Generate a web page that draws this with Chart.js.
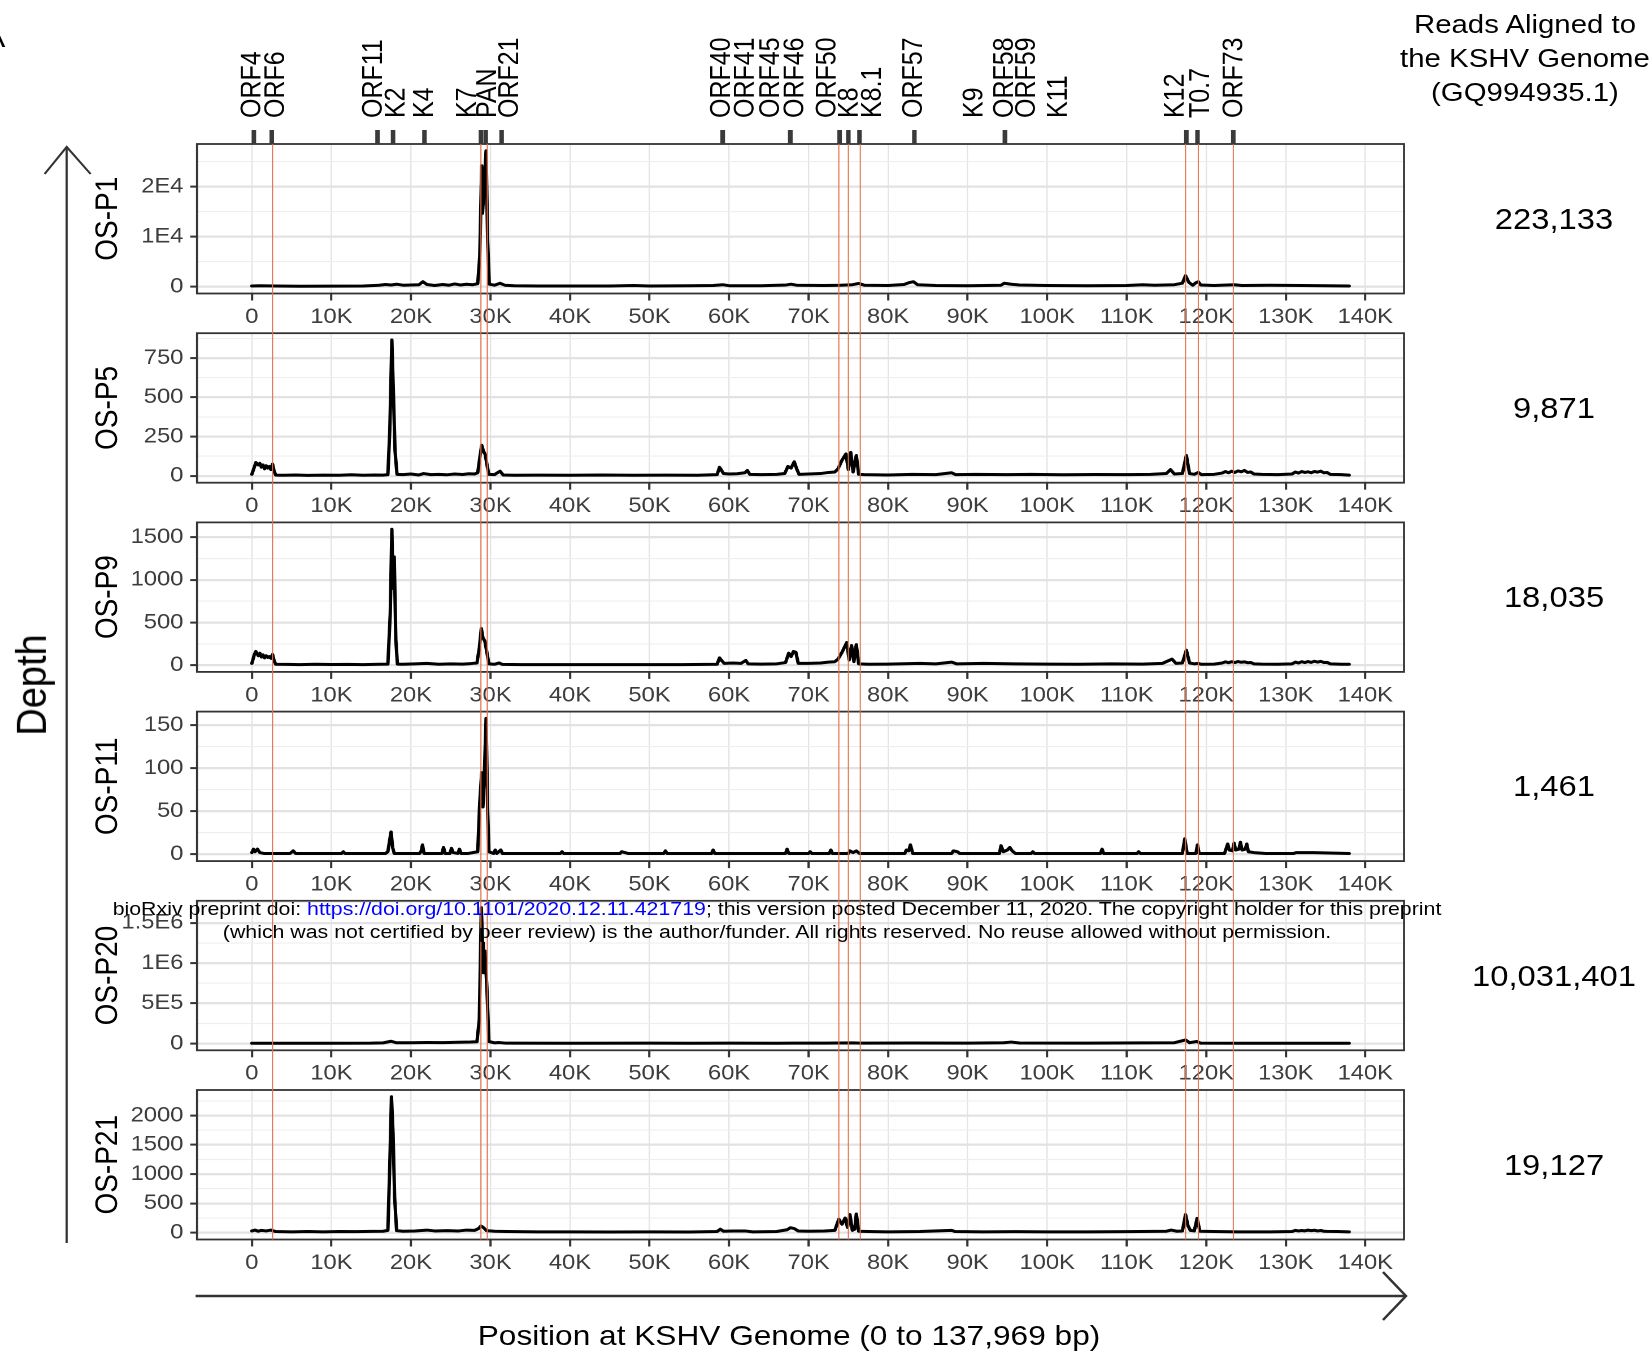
<!DOCTYPE html>
<html><head><meta charset="utf-8">
<script src="https://cdn.jsdelivr.net/npm/chart.js@4.4.1/dist/chart.umd.min.js"></script>
<style>
html,body{margin:0;padding:0;background:#fff;overflow:hidden;width:1652px;height:1358px;}
#stage{position:absolute;left:0;top:0;width:1462px;height:1358px;transform-origin:0 0;transform:scaleX(1.129959);}
#stage canvas{position:absolute;left:0;}
.t{position:absolute;font-family:"Liberation Sans",Arial,Helvetica,sans-serif;color:#000;white-space:nowrap;}
</style></head><body><div id="stage"></div>
<script>
// ---------------- DATA ----------------
const genomeLength = 137969;
const panelNames = ['OS-P1','OS-P5','OS-P9','OS-P11','OS-P20','OS-P21'];
const readCounts = ['223,133','9,871','18,035','1,461','10,031,401','19,127'];
const headerLines = ['Reads Aligned to','the KSHV Genome','(GQ994935.1)'];
const xTitle = 'Position at KSHV Genome (0 to 137,969 bp)';
const yTitle = 'Depth';
const xTickValues = [0,10000,20000,30000,40000,50000,60000,70000,80000,90000,100000,110000,120000,130000,140000];
const xTickLabels = ['0','10K','20K','30K','40K','50K','60K','70K','80K','90K','100K','110K','120K','130K','140K'];

const geneNames    = ['ORF4','ORF6','ORF11','K2','K4','K7','PAN','ORF21','ORF40','ORF41','ORF45','ORF46','ORF50','K8','K8.1','ORF57','K9','ORF58','ORF59','K11','K12','T0.7','ORF73'];
const geneTickPos  = [250,2500,15800,17750,21700,28800,29400,31400,59200,59200,67700,67700,73900,75000,76400,83300,94700,94700,94700,94700,117500,118900,123400];
const geneLabelPos = [-200,2800,15100,17900,21500,26900,29400,32200,58800,61800,65000,68100,72100,74900,77800,83000,90600,94400,97200,101200,115900,119100,123300];
const markerPos = [2600,28800,29600,73800,75000,76500,117400,119000,123400];

const p1Cov = [[0,150],[1000,200],[3000,150],[6000,100],[10000,120],[14000,150],[16000,300],[16800,450],[17500,350],[18200,500],[19000,300],[20000,350],[21000,400],[21500,1000],[22000,450],[23000,250],[24000,450],[24800,300],[25500,550],[26200,350],[27000,500],[27800,400],[28400,600],[28650,6000],[28900,24200],[29000,14700],[29450,27200],[29650,9000],[29850,500],[30500,300],[31200,700],[31800,300],[33000,200],[36000,150],[40000,150],[45000,150],[48000,250],[50000,150],[55000,200],[58000,250],[59200,400],[60000,200],[64000,200],[67200,350],[67800,500],[68500,300],[72000,250],[74000,300],[75500,400],[76300,650],[77000,300],[80000,250],[82000,450],[82600,800],[83200,1000],[83700,400],[86000,250],[90000,200],[94200,300],[94600,700],[95500,500],[96500,350],[100000,250],[105000,200],[110000,250],[112000,400],[113500,300],[116000,400],[117000,700],[117400,2200],[117800,900],[118300,300],[118700,800],[119000,1000],[119300,350],[121000,250],[123500,400],[124500,250],[128000,300],[132000,250],[135000,200],[137969,150]];
const p5Cov = [[0,10],[300,55],[500,85],[800,70],[1000,80],[1200,55],[1400,70],[1600,45],[1800,65],[2000,50],[2200,60],[2400,40],[2600,75],[2800,30],[3000,5],[4000,4],[5500,6],[7000,3],[9000,5],[11000,4],[12500,7],[14000,4],[15500,6],[16500,5],[17100,8],[17350,300],[17600,865],[17800,520],[18000,160],[18250,10],[19000,8],[20000,12],[21000,6],[21600,15],[22500,8],[23500,10],[24500,7],[25500,12],[26500,9],[27300,14],[28000,12],[28400,20],[28700,130],[28900,195],[29100,160],[29350,135],[29600,60],[29800,10],[30500,8],[31200,30],[31600,6],[33000,4],[36000,5],[40000,4],[44000,6],[48000,4],[52000,5],[56000,4],[58500,8],[58800,55],[59000,40],[59300,15],[60000,12],[61000,14],[62000,20],[62300,35],[62600,10],[64000,8],[66000,10],[67000,15],[67400,60],[67800,50],[68200,90],[68500,45],[68800,10],[70000,12],[71500,15],[72500,22],[73300,25],[73700,45],[74200,100],[74700,140],[75000,40],[75300,150],[75600,25],[76000,130],[76300,10],[77000,8],[80000,6],[83000,10],[86000,8],[88000,20],[88500,8],[91000,10],[95000,8],[98000,10],[102000,7],[106000,9],[110000,8],[113000,10],[115000,15],[115500,40],[116000,12],[117000,15],[117500,130],[117900,15],[118500,10],[119000,22],[119400,8],[121000,10],[122000,18],[122400,28],[122800,20],[123200,30],[123600,22],[124000,32],[124400,26],[124800,35],[125200,22],[125600,25],[126000,12],[127000,10],[129000,8],[130800,12],[131200,25],[131600,18],[132000,28],[132400,22],[132800,26],[133200,20],[133600,28],[134000,24],[134400,30],[134800,20],[135200,22],[135600,10],[137000,8],[137969,5]];
const p9Cov = [[0,20],[300,120],[500,160],[800,110],[1000,140],[1200,95],[1400,120],[1600,85],[1800,110],[2000,90],[2200,100],[2400,80],[2600,125],[2800,50],[3000,10],[4500,8],[6000,6],[8000,10],[10000,7],[12000,9],[14000,6],[16000,10],[17100,12],[17400,600],[17600,1595],[17750,900],[17900,1270],[18100,300],[18300,12],[19000,10],[20500,14],[22000,20],[23500,10],[25000,15],[26500,12],[27500,18],[28300,25],[28600,200],[28850,430],[29050,320],[29300,280],[29550,150],[29800,15],[30500,10],[31100,25],[31500,8],[34000,6],[38000,5],[42000,6],[46000,5],[50000,6],[54000,5],[58500,10],[58800,85],[59100,50],[59400,20],[60500,25],[61500,20],[62100,55],[62400,15],[64000,12],[66000,15],[67100,30],[67500,140],[67800,100],[68100,160],[68400,150],[68700,20],[70000,20],[71500,25],[72500,35],[73300,40],[73700,70],[74200,150],[74800,265],[75100,60],[75400,230],[75700,40],[76000,240],[76300,15],[77500,10],[80000,12],[84000,20],[86000,15],[88000,35],[88600,15],[92000,20],[96000,15],[100000,12],[104000,10],[108000,15],[112000,12],[114500,20],[115700,70],[116200,20],[117000,25],[117500,175],[117900,25],[118500,15],[119000,20],[119400,10],[121000,12],[122000,25],[122400,38],[122800,28],[123200,40],[123600,30],[124000,42],[124400,33],[124800,38],[125200,28],[125600,30],[126000,15],[127000,12],[129000,10],[130800,15],[131200,35],[131600,25],[132000,40],[132400,30],[132800,42],[133200,32],[133600,45],[134000,35],[134400,44],[134800,30],[135200,32],[135600,14],[137000,10],[137969,10]];
const p11Cov = [[0,2],[200,6],[400,3],[700,6],[1000,2],[1500,1],[4800,1],[5200,4],[5500,1],[11300,1],[11500,3],[11700,1],[16800,1],[17100,3],[17300,15],[17500,26],[17700,8],[17900,1],[21100,1],[21300,4],[21450,11],[21650,1],[23900,1],[24100,8],[24300,1],[24900,1],[25100,7],[25300,2],[25900,1],[26100,6],[26300,1],[27200,1],[28400,3],[28650,60],[28900,95],[29050,55],[29250,98],[29450,158],[29650,50],[29800,3],[30400,1],[30600,5],[30800,1],[31300,5],[31500,1],[38800,1],[39000,3],[39200,1],[46300,1],[46500,3],[46900,2],[47300,1],[51800,1],[52000,4],[52200,1],[57800,1],[58000,5],[58200,1],[67100,1],[67300,6],[67500,1],[70000,1],[70200,3],[70400,1],[72600,1],[72800,5],[73000,1],[75000,1],[75200,4],[75600,2],[76000,4],[76400,1],[82100,1],[82300,5],[82600,4],[82800,11],[83100,1],[88000,1],[88200,4],[88700,3],[89000,1],[94000,1],[94200,10],[94500,3],[95000,5],[95300,8],[95600,4],[96000,1],[98000,1],[98200,3],[98400,1],[106700,1],[106900,6],[107100,1],[111300,1],[111500,3],[111700,1],[117000,1],[117300,18],[117600,1],[118700,1],[118900,11],[119100,1],[122300,1],[122700,12],[122900,5],[123300,4],[123500,13],[123700,5],[124100,6],[124300,14],[124500,5],[124900,6],[125100,12],[125300,3],[126000,2],[127500,1],[131000,1],[131300,2],[133500,2],[137969,1]];
const p20Cov = [[0,3000],[5000,2500],[10000,3000],[15000,4000],[16500,8000],[17500,28000],[18200,9000],[20000,10000],[22000,12000],[24000,11000],[26000,15000],[27500,18000],[28300,22000],[28600,300000],[28850,1690000],[29000,1250000],[29100,880000],[29300,1150000],[29550,700000],[29800,25000],[30500,8000],[31000,12000],[32000,4000],[40000,3000],[50000,4000],[55000,3000],[60000,4000],[66000,3000],[68000,5000],[72000,4000],[75500,8000],[76500,4000],[83000,6000],[90000,4000],[94500,10000],[95500,18000],[96500,6000],[105000,4000],[112000,8000],[116000,10000],[117400,45000],[117900,10000],[118800,25000],[119300,5000],[125000,3000],[130000,3000],[137969,2500]];
const p21Cov = [[0,30],[400,45],[800,25],[1200,40],[1800,30],[2400,45],[3000,20],[5000,15],[7000,20],[9000,15],[11000,20],[13000,18],[15000,22],[16500,25],[17100,40],[17350,1200],[17550,2320],[17750,1700],[17950,600],[18200,35],[19000,25],[20500,30],[22000,45],[23000,30],[24500,35],[26000,30],[27000,45],[28000,40],[28500,70],[28800,115],[29100,90],[29500,35],[30500,25],[32000,20],[36000,15],[40000,15],[45000,12],[50000,15],[55000,12],[58500,20],[58900,60],[59300,25],[60500,30],[62000,30],[63000,15],[66000,20],[67300,50],[67700,85],[68200,70],[68700,30],[70000,25],[72000,30],[73300,40],[73800,230],[74200,145],[74600,250],[74900,90],[75200,310],[75500,40],[75800,60],[76000,320],[76300,25],[77500,20],[80000,15],[84000,20],[88000,40],[88400,20],[92000,15],[96000,18],[100000,15],[105000,15],[110000,18],[115000,25],[115600,45],[116300,25],[117000,30],[117400,310],[117700,120],[118000,40],[118500,30],[118850,245],[119200,25],[121000,20],[124000,15],[128000,15],[130800,20],[131200,40],[131600,30],[132000,38],[132400,32],[132800,44],[133200,35],[133600,42],[134000,30],[134400,38],[134800,25],[135200,22],[136500,20],[137969,15]];

const p1YMajor = [0,10000,20000];     const p1YLabels = ['0','1E4','2E4'];          const p1YMinor = [5000,15000,25000];
const p5YMajor = [0,250,500,750];     const p5YLabels = ['0','250','500','750'];    const p5YMinor = [125,375,625,875];
const p9YMajor = [0,500,1000,1500];   const p9YLabels = ['0','500','1000','1500'];  const p9YMinor = [250,750,1250];
const p11YMajor = [0,50,100,150];     const p11YLabels = ['0','50','100','150'];    const p11YMinor = [25,75,125];
const p20YMajor = [0,500000,1000000,1500000]; const p20YLabels = ['0','5E5','1E6','1.5E6']; const p20YMinor = [250000,750000,1250000,1750000];
const p21YMajor = [0,500,1000,1500,2000]; const p21YLabels = ['0','500','1000','1500','2000']; const p21YMinor = [250,750,1250,1750,2250];

const wmPre = 'bioRxiv preprint doi: ';
const wmLink = 'https://doi.org/10.1101/2020.12.11.421719';
const wmPost = '; this version posted December 11, 2020. The copyright holder for this preprint';
const wmLine2 = '(which was not certified by peer review) is the author/funder. All rights reserved. No reuse allowed without permission.';

const panels = [
  {name:panelNames[0], count:readCounts[0], cov:p1Cov,  major:p1YMajor,  labels:p1YLabels,  minor:p1YMinor},
  {name:panelNames[1], count:readCounts[1], cov:p5Cov,  major:p5YMajor,  labels:p5YLabels,  minor:p5YMinor},
  {name:panelNames[2], count:readCounts[2], cov:p9Cov,  major:p9YMajor,  labels:p9YLabels,  minor:p9YMinor},
  {name:panelNames[3], count:readCounts[3], cov:p11Cov, major:p11YMajor, labels:p11YLabels, minor:p11YMinor},
  {name:panelNames[4], count:readCounts[4], cov:p20Cov, major:p20YMajor, labels:p20YLabels, minor:p20YMinor},
  {name:panelNames[5], count:readCounts[5], cov:p21Cov, major:p21YMajor, labels:p21YLabels, minor:p21YMinor}
];

// ---------------- LAYOUT ----------------
const W = 1462;
const S = 1652 / W;
const fx = v => v / S;
const FONT = '"Liberation Sans", Arial, Helvetica, sans-serif';
const PLOT_L = fx(197), PLOT_R = fx(1404);
const TOP0 = 144, PITCH = 189.2, PH = 149.5, XH = 36;
const TITLE_SIZE = 28;
const Y_LEFT = fx(108) - TITLE_SIZE / 2;
const YW = PLOT_L - Y_LEFT;
const stage = document.getElementById('stage');

const xMin = -0.05 * genomeLength, xMax = genomeLength * 1.05;

const decor = {
  id: 'decor',
  afterDatasetsDraw(chart) {
    const {ctx, chartArea: a} = chart;
    ctx.save();
    ctx.strokeStyle = '#333333';
    ctx.lineWidth = 1.8;
    ctx.strokeRect(a.left, a.top, a.right - a.left, a.bottom - a.top);
    ctx.restore();
  },
  afterDraw(chart, args, o) {
    const {ctx, chartArea: a} = chart;
    const xs = chart.scales.x;
    ctx.save();
    ctx.strokeStyle = '#e2714d';
    ctx.lineWidth = 1;
    const y0 = o.first ? a.top : 0;
    const y1 = o.last ? a.bottom : chart.height;
    markerPos.forEach(p => {
      const x = xs.getPixelForValue(p);
      ctx.beginPath(); ctx.moveTo(x, y0); ctx.lineTo(x, y1); ctx.stroke();
    });
    if (o.first) {
      ctx.fillStyle = '#3a3a3a';
      geneTickPos.forEach(p => {
        const x = xs.getPixelForValue(p);
        ctx.fillRect(x - 2, 130, 4, a.top - 130);
      });
      ctx.fillStyle = '#000';
      ctx.font = `25px ${FONT}`;
      ctx.textAlign = 'left';
      ctx.textBaseline = 'alphabetic';
      geneNames.forEach((g, k) => {
        const x = xs.getPixelForValue(geneLabelPos[k]);
        ctx.save();
        ctx.translate(x + 9, 118);
        ctx.rotate(-Math.PI / 2);
        ctx.fillText(g, 0, 0);
        ctx.restore();
      });
    }
    ctx.restore();
  }
};

panels.forEach((p, i) => {
  const T = TOP0 + i * PITCH;
  const B = T + PH;
  const cTop = i === 0 ? 0 : Math.round(T - 3);
  const cBot = i === panels.length - 1 ? 1358 : Math.round(TOP0 + (i + 1) * PITCH - 3);
  const H = cBot - cTop;
  const cv = document.createElement('canvas');
  cv.width = W; cv.height = H;
  cv.style.width = W + 'px'; cv.style.height = H + 'px';
  cv.style.top = cTop + 'px';
  stage.appendChild(cv);

  const ys = p.cov.map(d => d[1]);
  const dMax = Math.max(...ys), dMin = Math.min(0, ...ys);
  const rng = dMax - dMin;
  const yAll = p.major.concat(p.minor).sort((a, b) => a - b);
  const isMajor = v => p.major.indexOf(v) >= 0;

  new Chart(cv, {
    type: 'line',
    data: { datasets: [{
      data: p.cov.map(d => ({x: d[0], y: d[1]})),
      borderColor: '#000', borderWidth: 3.0, pointRadius: 0, tension: 0,
      borderJoinStyle: 'round', borderCapStyle: 'round', fill: false
    }]},
    options: {
      responsive: false, animation: false, devicePixelRatio: 2, events: [],
      layout: { padding: { left: Y_LEFT, right: W - PLOT_R, top: T - cTop, bottom: H - (B - cTop) - XH } },
      plugins: { legend: {display: false}, tooltip: {enabled: false}, decor: {first: i === 0, last: i === panels.length - 1} },
      scales: {
        x: {
          type: 'linear', min: xMin, max: xMax,
          afterBuildTicks: s => { s.ticks = xTickValues.map(v => ({value: v})); },
          afterFit: s => { s.height = XH; s.paddingLeft = 0; s.paddingRight = 0; },
          ticks: { autoSkip: false, maxRotation: 0, minRotation: 0, padding: 4, color: '#3d3d3d',
                   font: {family: FONT, size: 21},
                   callback: v => { const k = xTickValues.indexOf(v); return k >= 0 ? xTickLabels[k] : ''; } },
          grid: { color: '#e4e4e4', lineWidth: 1.2, tickColor: '#333333', tickWidth: 2, tickLength: 7 },
          border: { display: false }
        },
        y: {
          type: 'linear', min: dMin - 0.05 * rng, max: dMax + 0.05 * rng,
          afterBuildTicks: s => { s.ticks = yAll.map(v => ({value: v})); },
          afterFit: s => { s.width = YW; s.paddingTop = 0; s.paddingBottom = 0; },
          ticks: { autoSkip: false, padding: 6, color: '#3d3d3d', font: {family: FONT, size: 21},
                   callback: v => { const k = p.major.indexOf(v); return k >= 0 ? p.labels[k] : ''; } },
          grid: {
            color: c => (c.tick && isMajor(c.tick.value)) ? '#e2e2e2' : '#eeeeee',
            lineWidth: c => (c.tick && isMajor(c.tick.value)) ? 2.2 : 1.1,
            tickColor: c => (c.tick && isMajor(c.tick.value)) ? '#333333' : 'rgba(0,0,0,0)',
            tickWidth: 2, tickLength: 6
          },
          border: { display: false },
          title: { display: true, text: p.name, color: '#000', padding: 0,
                   font: {family: FONT, size: TITLE_SIZE, lineHeight: 1} }
        }
      }
    },
    plugins: [decor]
  });

  // read count at the right, centred on the panel
  const n = document.createElement('div');
  n.className = 't';
  n.textContent = p.count;
  n.style.cssText += `left:${fx(1554)}px;top:${T + PH / 2}px;font-size:29px;line-height:1;transform:translate(-50%,-50%);`;
  stage.appendChild(n);
});

// header
const hd = document.createElement('div');
hd.className = 't';
hd.style.cssText += `left:${fx(1525)}px;top:7px;font-size:26px;line-height:34px;text-align:center;transform:translateX(-50%);`;
hd.innerHTML = headerLines.map(s => `<div>${s}</div>`).join('');
stage.appendChild(hd);

// axis titles
const xt = document.createElement('div');
xt.className = 't';
xt.textContent = xTitle;
xt.style.cssText += `left:${fx(789)}px;top:1336px;font-size:28px;line-height:1;transform:translate(-50%,-50%);`;
stage.appendChild(xt);

const yt = document.createElement('div');
yt.className = 't';
yt.textContent = yTitle;
yt.style.cssText += `left:${fx(32)}px;top:685px;font-size:38px;line-height:1;transform:translate(-50%,-50%) rotate(-90deg);`;
stage.appendChild(yt);

// panel letter (cut at the left edge)
const al = document.createElement('div');
al.className = 't';
al.textContent = 'A';
al.style.cssText += `left:-14px;top:24px;font-size:28px;line-height:1;`;
stage.appendChild(al);

// arrows
const svgNS = 'http://www.w3.org/2000/svg';
const svg = document.createElementNS(svgNS, 'svg');
svg.setAttribute('width', W); svg.setAttribute('height', 1358);
svg.style.cssText = 'position:absolute;left:0;top:0;';
const pl = (pts, w) => {
  const e = document.createElementNS(svgNS, 'polyline');
  e.setAttribute('points', pts.map(q => q.join(',')).join(' '));
  e.setAttribute('fill', 'none'); e.setAttribute('stroke', '#333');
  e.setAttribute('stroke-width', w); e.setAttribute('stroke-linejoin', 'miter');
  svg.appendChild(e);
};
pl([[fx(66.7), 1243], [fx(66.7), 147]], 2);
pl([[fx(44.6), 174], [fx(66.7), 147], [fx(90.6), 174]], 2);
pl([[fx(195.6), 1296], [fx(1406), 1296]], 2.3);
pl([[fx(1383), 1272], [fx(1406), 1296], [fx(1383), 1320]], 2.3);
stage.appendChild(svg);

// bioRxiv watermark
const mctx = document.createElement('canvas').getContext('2d');
mctx.font = `20px ${FONT}`;
const wmSize = 20 * fx(1110) / mctx.measureText(wmLine2).width;
const wm = document.createElement('div');
wm.className = 't';
wm.style.cssText += `left:${fx(777)}px;top:897px;font-size:${wmSize}px;line-height:23px;text-align:center;transform:translateX(-50%);`;
wm.innerHTML = `<div>${wmPre}<span style="color:#0000ff">${wmLink}</span>${wmPost}</div><div>${wmLine2}</div>`;
stage.appendChild(wm);
</script></body></html>
